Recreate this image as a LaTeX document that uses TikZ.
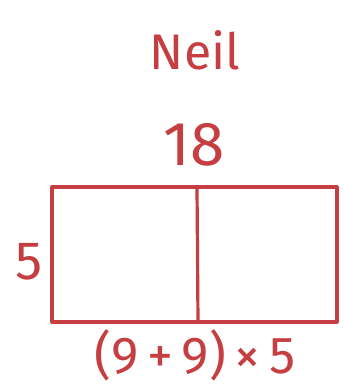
\documentclass[tikz,border=0pt]{standalone}
\usepackage{fontspec}
\setmainfont{Fira Sans}
\usepackage{xcolor}
\usetikzlibrary{positioning}
\definecolor{cPen}{RGB}{196,62,66}
\tikzset{
	penline/.style={draw=cPen, line width=3.2pt, line cap=round, line join=round},
	pentext/.style={text=cPen, inner sep=0pt, font=\fontsize{40}{44}\selectfont},
}

\begin{document}
\begin{tikzpicture}[x=1pt, y=-1pt]
	\useasboundingbox (0,0) rectangle (343,391);
	% bar model
	\coordinate (tl) at (52,187);
	\coordinate (br) at (337,322);
	\draw[penline] (tl) rectangle (br);
	\draw[penline] (197,187) -- (198,322);
	% labels
	\node[pentext, font=\fontsize{50}{54}\selectfont] (name) at (195,50) {Neil};
	\node[pentext, font=\fontsize{62}{66}\selectfont] (total) at (194,145) {18};
	\node[pentext, font=\fontsize{54}{58}\selectfont] (side) at (29,262) {5};
	\node[pentext, font=\fontsize{52}{56}\selectfont] (calc) at (195,355) {(9\,+\,9)\,×\,5};
\end{tikzpicture}
\end{document}
